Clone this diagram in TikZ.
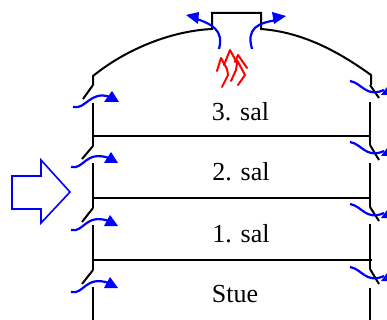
\documentclass[tikz,border=0pt]{standalone}
\usepackage{fontspec}
\setmainfont{Liberation Serif}
\tikzset{
  wall/.style={black,line width=2pt},
  floorline/.style={black,line width=2pt},
  flowline/.style={blue,line width=2.2pt},
  flowhead/.style={blue,fill=blue,draw=none},
  flame/.style={red,line width=2pt,line join=round,line cap=round},
  label/.style={font=\fontsize{26}{28}\selectfont,inner sep=0pt,anchor=base}
}
\begin{document}
\begin{tikzpicture}[x=1pt,y=-1pt]
\useasboundingbox (0,0) rectangle (387,320);
\clip (0,0) rectangle (387,320);
% roof
\draw[wall] (93,85) -- (93,76) .. controls (125,50) and (170,31) .. (212,29) -- (212,13) -- (261,13) -- (261,29) .. controls (300,32) and (335,49) .. (371,75) -- (371,85);
% walls
\foreach \a/\b/\c in {85/83/99,146/82/159,208/82/222,270/82/284}{\draw[wall] (93,\a) -- (\b,\c);}
\foreach \a/\b in {103/146,163/208,225/270,287/320}{\draw[wall] (93,\a) -- (93,\b);}
\foreach \a/\c in {85/98,145/160,207/221,269/284}{\draw[wall] (370,\a) -- (379,\c);}
\foreach \a/\b in {102/145,163/207,224/269,288/320}{\draw[wall] (370,\a) -- (370,\b);}
\draw[floorline] (93,136) -- (370,136);
\draw[floorline] (93,198) -- (370,198);
\draw[floorline] (93,260) -- (372,260);
% labels
\node[label] (s3) at (240.5,121) {3. sal};
\node[label] (s2) at (241,180) {2. sal};
\node[label] (s1) at (241,242) {1. sal};
\node[label] (s0) at (235,302) {Stue};
% block arrow
\draw[blue,line width=1.6pt,line join=miter] (12,176) -- (41,176) -- (41,160) -- (70,192) -- (41,223) -- (41,209) -- (12,209) -- cycle;
% chimney flow
\draw[flowline] (219,49) .. controls (224,30) and (212,24) .. (194,18);
\fill[flowhead] (186,15) -- (199,12) -- (198,24) -- cycle;
\draw[flowline] (252,49) .. controls (246,28) and (258,23) .. (277,20);
\fill[flowhead] (272,12) -- (286,16) -- (274,24) -- cycle;
% left flows
\draw[flowline] (73,107) .. controls (86,110) and (90,90) .. (110,97);
\fill[flowhead] (112,91) -- (104,102) -- (119,102) -- cycle;
\draw[flowline] (71,167) .. controls (84,170) and (85,150) .. (109,158);
\fill[flowhead] (111,152) -- (104,163) -- (118,163) -- cycle;
\draw[flowline] (71,230) .. controls (84,233) and (85,213) .. (109,221);
\fill[flowhead] (110,215) -- (104,226) -- (118,226) -- cycle;
\draw[flowline] (71,292) .. controls (84,295) and (85,275) .. (109,283);
\fill[flowhead] (110,277) -- (104,288) -- (118,288) -- cycle;
% right flows
\foreach \y in {0,61,123,186}{
\draw[flowline] (350,81+\y) .. controls (362,83+\y) and (366,98+\y) .. (384,90+\y);
\fill[flowhead] (390,83+\y) -- (381,95+\y) -- (394,95+\y) -- cycle;}
% flames
\draw[flame] (217,71) -- (221,58) -- (227,69) -- (228,75) -- (222,87);
\draw[flame] (224,65) -- (230,50) -- (237,63) -- (236,70) -- (231,81);
\draw[flame] (235,62) -- (238,55) -- (247,68);
\draw[flame] (237,60) -- (245,75) -- (238,85);
\end{tikzpicture}
\end{document}
